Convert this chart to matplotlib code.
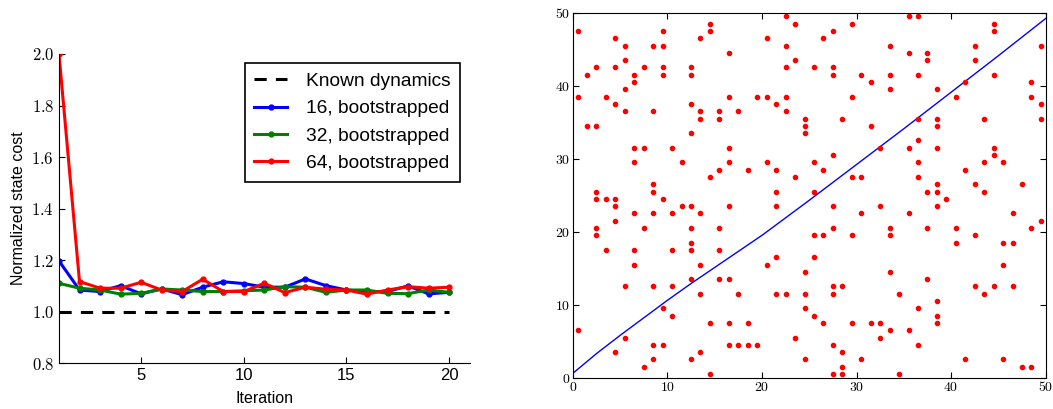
import matplotlib
matplotlib.use("Agg")
import matplotlib.pyplot as plt
import numpy as np
from matplotlib.ticker import FormatStrFormatter

plt.rcParams['font.family'] = ['Liberation Sans', 'DejaVu Sans']
plt.rcParams['mathtext.fontset'] = 'cm'

# left panel: normalized state cost vs iteration
iterations = list(range(1, 21))
known_dynamics = 1.0
cost_16 = [1.197, 1.084, 1.078, 1.101, 1.069, 1.088, 1.066, 1.095, 1.116, 1.109,
           1.095, 1.095, 1.127, 1.101, 1.084, 1.078, 1.078, 1.100, 1.069, 1.075]
cost_32 = [1.110, 1.091, 1.084, 1.068, 1.071, 1.088, 1.084, 1.078, 1.078, 1.081,
           1.084, 1.097, 1.095, 1.075, 1.084, 1.084, 1.071, 1.070, 1.084, 1.075]
cost_64 = [2.000, 1.117, 1.091, 1.091, 1.114, 1.084, 1.078, 1.126, 1.078, 1.078,
           1.110, 1.074, 1.095, 1.087, 1.084, 1.068, 1.084, 1.097, 1.091, 1.095]

# right panel: obstacle cells and path
obs_x = [0.5, 4.5, 5.5, 8.5, 9.5, 9.5, 14.5, 14.5, 13.5, 16.5, 20.5, 22.5, 23.5, 22.5,
         23.5, 22.5, 5.5, 2.5, 4.5, 7.5, 9.5, 12.5, 1.5, 6.5, 9.5, 12.5, 6.5, 5.5,
         0.5, 3.5, 16.5, 19.5, 20.5, 22.5, 4.5, 12.5, 21.5, 5.5, 8.5, 13.5, 15.5,
         17.5, 22.5, 13.5, 15.5, 24.5, 1.5, 2.5, 24.5, 12.5, 24.5, 6.5, 7.5, 10.5,
         16.5, 6.5, 11.5, 16.5, 20.5, 15.5, 18.5, 21.5, 14.5, 23.5, 8.5, 2.5, 8.5,
         21.5, 2.5, 3.5, 4.5, 9.5,
         4.5, 11.5, 12.5, 16.5, 21.5, 6.5, 8.5, 10.5, 13.5, 4.5, 2.5, 7.5, 12.5,
         15.5, 2.5, 12.5, 3.5, 6.5, 10.5, 12.5, 15.5, 21.5, 6.5, 13.5, 20.5, 24.5,
         12.5, 15.5, 16.5, 5.5, 8.5, 10.5, 13.5, 17.5, 21.5, 22.5, 24.5, 9.5, 24.5,
         10.5, 14.5, 16.5, 18.5, 0.5, 5.5, 23.5, 8.5, 9.5, 16.5, 17.5, 18.5, 19.5,
         4.5, 13.5, 8.5, 12.5, 24.5, 7.5, 14.5,
         29.5, 35.5, 36.5, 27.5, 26.5, 44.5, 44.5, 33.5, 42.5, 49.5, 35.5, 37.5,
         37.5, 42.5, 25.5, 27.5, 27.5, 30.5, 33.5, 36.5, 44.5, 31.5, 41.5, 48.5,
         33.5, 38.5, 29.5, 40.5, 48.5, 49.5, 28.5, 36.5, 38.5, 43.5, 49.5, 31.5,
         38.5, 36.5, 32.5, 35.5, 38.5, 44.5, 27.5, 44.5, 25.5, 36.5, 43.5, 45.5,
         26.5, 41.5, 29.5, 30.5, 36.5, 38.5, 42.5, 47.5, 25.5, 37.5, 38.5, 43.5,
         39.5,
         27.5, 32.5, 38.5, 30.5, 35.5, 46.5, 49.5, 27.5, 33.5, 37.5, 40.5, 48.5,
         25.5, 26.5, 29.5, 33.5, 42.5, 40.5, 45.5, 46.5, 25.5, 45.5, 33.5, 37.5,
         27.5, 28.5, 42.5, 44.5, 46.5, 27.5, 34.5, 43.5, 38.5, 36.5, 25.5, 38.5,
         26.5, 29.5, 31.5, 32.5, 38.5, 33.5, 35.5, 32.5, 27.5, 36.5, 28.5, 30.5,
         41.5, 45.5, 28.5, 47.5, 48.5, 27.5, 28.5, 34.5]
obs_y = [47.5, 46.5, 45.5, 45.5, 45.5, 47.5, 48.5, 47.5, 46.5, 44.5, 46.5, 49.5, 48.5, 45.5,
         43.5, 42.5, 43.5, 42.5, 42.5, 42.5, 42.5, 42.5, 41.5, 41.5, 41.5, 41.5, 40.5, 39.5,
         38.5, 38.5, 38.5, 38.5, 38.5, 38.5, 37.5, 37.5, 37.5, 36.5, 36.5, 36.5, 36.5,
         36.5, 36.5, 35.5, 35.5, 35.5, 34.5, 34.5, 34.5, 33.5, 33.5, 31.5, 31.5, 31.5,
         31.5, 29.5, 29.5, 29.5, 29.5, 28.5, 28.5, 28.5, 27.5, 27.5, 26.5, 25.5, 25.5,
         25.5, 24.5, 24.5, 24.5, 24.5,
         23.5, 23.5, 23.5, 23.5, 23.5, 22.5, 22.5, 22.5, 22.5, 21.5, 20.5, 20.5, 20.5,
         20.5, 19.5, 18.5, 17.5, 17.5, 17.5, 17.5, 17.5, 16.5, 15.5, 15.5, 15.5, 14.5,
         13.5, 13.5, 13.5, 12.5, 12.5, 12.5, 11.5, 11.5, 11.5, 11.5, 11.5, 9.5, 9.5,
         8.5, 7.5, 7.5, 7.5, 6.5, 5.5, 5.5, 4.5, 4.5, 4.5, 4.5, 4.5, 4.5,
         3.5, 3.5, 2.5, 2.5, 2.5, 1.5, 0.5,
         48.5, 49.5, 49.5, 47.5, 46.5, 48.5, 47.5, 45.5, 45.5, 45.5, 44.5, 44.5,
         43.5, 43.5, 42.5, 42.5, 41.5, 41.5, 41.5, 41.5, 41.5, 40.5, 40.5, 40.5,
         39.5, 39.5, 38.5, 38.5, 38.5, 37.5, 35.5, 35.5, 35.5, 35.5, 35.5, 34.5,
         34.5, 32.5, 31.5, 31.5, 31.5, 31.5, 30.5, 30.5, 29.5, 29.5, 29.5, 29.5,
         28.5, 28.5, 27.5, 27.5, 27.5, 26.5, 26.5, 26.5, 25.5, 25.5, 25.5, 25.5,
         24.5,
         23.5, 23.5, 23.5, 22.5, 22.5, 22.5, 21.5, 20.5, 20.5, 20.5, 20.5, 20.5,
         19.5, 19.5, 19.5, 19.5, 19.5, 18.5, 18.5, 18.5, 16.5, 15.5, 14.5, 13.5,
         12.5, 12.5, 12.5, 12.5, 12.5, 11.5, 11.5, 11.5, 10.5, 9.5, 8.5, 8.5,
         7.5, 7.5, 7.5, 7.5, 7.5, 6.5, 6.5, 5.5, 4.5, 4.5, 3.5, 2.5,
         2.5, 2.5, 1.5, 1.5, 1.5, 0.5, 0.5, 0.5]
path_x = [0, 2.5, 5, 7.5, 10, 12.5, 15, 17.5, 20, 22.5, 25, 30, 35, 40, 45, 50]
path_y = [0.6, 3.3, 5.8, 8.2, 10.6, 12.9, 15.1, 17.3, 19.5, 21.9, 24.3, 29.2, 34.1, 39.1, 44.1, 49.2]

fig = plt.figure(figsize=(10.53, 4.09), dpi=100)

# left
ax1 = fig.add_axes([0.056, 0.112, 0.390, 0.756])
ax1.plot([iterations[0], iterations[-1]], [known_dynamics, known_dynamics],
         'k--', lw=2.2, dashes=(4, 3), label="Known dynamics")
ax1.plot(iterations, cost_16, '-o', color='blue', lw=2.2, ms=3.5, mec='blue',
         label="16, bootstrapped")
ax1.plot(iterations, cost_32, '-o', color='green', lw=2.2, ms=3.5, mec='green',
         label="32, bootstrapped")
ax1.plot(iterations, cost_64, '-o', color='red', lw=2.2, ms=3.5, mec='red',
         label="64, bootstrapped")
ax1.set_xlim(1, 21)
ax1.set_ylim(0.8, 2.0)
ax1.set_xticks([5, 10, 15, 20])
ax1.set_yticks([0.8, 1.0, 1.2, 1.4, 1.6, 1.8, 2.0])
ax1.yaxis.set_major_formatter(FormatStrFormatter(r'$%.1f$'))
ax1.spines['top'].set_visible(False)
ax1.spines['right'].set_visible(False)
ax1.tick_params(direction='in', top=False, right=False, labelsize=12, length=4)
ax1.set_xlabel("Iteration", fontsize=11.5, labelpad=6)
ax1.set_ylabel("Normalized state cost", fontsize=11.5)
leg = ax1.legend(loc='upper right', bbox_to_anchor=(0.977, 0.971), borderaxespad=0,
                 fontsize=13.8, handlelength=1.7, handletextpad=1.0, borderpad=0.5,
                 labelspacing=0.52, fancybox=False, framealpha=1)
leg.get_frame().set_edgecolor('black')
leg.get_frame().set_linewidth(1.2)

# right
ax2 = fig.add_axes([0.544, 0.0765, 0.449, 0.8925])
ax2.plot(path_x, path_y, color='blue', lw=1)
ax2.plot(obs_x, obs_y, 'o', color='red', ms=3, mec='red', ls='none')
ax2.set_xlim(0, 50)
ax2.set_ylim(0, 50)
ax2.set_xticks(range(0, 51, 10))
ax2.set_yticks(range(0, 51, 10))
ax2.xaxis.set_major_formatter(FormatStrFormatter(r'$%d$'))
ax2.yaxis.set_major_formatter(FormatStrFormatter(r'$%d$'))
ax2.tick_params(direction='in', top=True, right=True, labelsize=10, length=4, pad=2)

fig.savefig("out.png", dpi=100)
